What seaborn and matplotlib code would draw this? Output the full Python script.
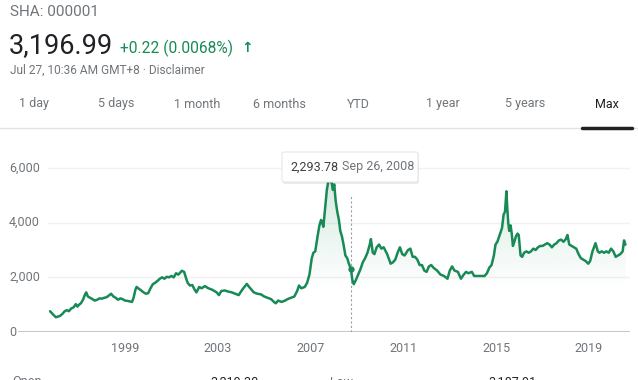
import numpy as np
import pandas as pd
import matplotlib
matplotlib.use("Agg")
import matplotlib.pyplot as plt
import seaborn as sns
from matplotlib.patches import FancyBboxPatch

# ------------------------------------
# DATA (decimal years)
# ------------------------------------

years = [
    1995.77, 1995.9, 1996.02, 1996.1, 1996.2, 1996.3, 1996.4, 1996.5, 1996.58, 1996.68,
    1996.78, 1996.88, 1996.95, 1997.02, 1997.1, 1997.2, 1997.28, 1997.33, 1997.4, 1997.5,
    1997.6, 1997.7, 1997.8, 1997.9, 1998.0, 1998.1, 1998.2, 1998.3, 1998.4, 1998.5,
    1998.6, 1998.7, 1998.8, 1998.9, 1999.0, 1999.1, 1999.2, 1999.3, 1999.37, 1999.45,
    1999.5, 1999.6, 1999.7, 1999.8, 1999.9, 2000.0, 2000.1, 2000.2, 2000.3, 2000.4,
    2000.5, 2000.6, 2000.7, 2000.8, 2000.9, 2001.0, 2001.1, 2001.2, 2001.3, 2001.45,
    2001.55, 2001.62, 2001.7, 2001.8, 2001.9, 2002.0, 2002.08, 2002.2, 2002.3, 2002.45,
    2002.55, 2002.65, 2002.75, 2002.85, 2002.95, 2003.05, 2003.15, 2003.3, 2003.45, 2003.6,
    2003.75, 2003.9, 2004.0, 2004.1, 2004.25, 2004.35, 2004.45, 2004.55, 2004.7, 2004.85,
    2005.0, 2005.15, 2005.3, 2005.42, 2005.5, 2005.6, 2005.75, 2005.9, 2006.0, 2006.15,
    2006.3, 2006.42, 2006.5, 2006.6, 2006.75, 2006.85, 2006.95, 2007.05, 2007.12, 2007.2,
    2007.3, 2007.38, 2007.45, 2007.5, 2007.55, 2007.62, 2007.7, 2007.78, 2007.85, 2007.9,
    2007.96, 2008.02, 2008.08, 2008.15, 2008.22, 2008.28, 2008.35, 2008.42, 2008.5, 2008.58,
    2008.65, 2008.74, 2008.8, 2008.86, 2008.95, 2009.05, 2009.15, 2009.25, 2009.35, 2009.45,
    2009.55, 2009.6, 2009.68, 2009.75, 2009.85, 2009.95, 2010.05, 2010.15, 2010.3, 2010.45,
    2010.55, 2010.65, 2010.75, 2010.85, 2010.95, 2011.05, 2011.2, 2011.3, 2011.4, 2011.5,
    2011.6, 2011.7, 2011.8, 2011.9, 2012.0, 2012.1, 2012.2, 2012.3, 2012.45, 2012.6,
    2012.75, 2012.9, 2013.0, 2013.1, 2013.2, 2013.35, 2013.48, 2013.6, 2013.7, 2013.8,
    2013.95, 2014.05, 2014.2, 2014.35, 2014.5, 2014.6, 2014.7, 2014.8, 2014.9, 2014.97,
    2015.05, 2015.15, 2015.25, 2015.32, 2015.38, 2015.44, 2015.48, 2015.52, 2015.56, 2015.62,
    2015.67, 2015.72, 2015.78, 2015.85, 2015.92, 2015.97, 2016.05, 2016.12, 2016.2, 2016.3,
    2016.4, 2016.5, 2016.6, 2016.7, 2016.8, 2016.9, 2017.0, 2017.1, 2017.2, 2017.3,
    2017.4, 2017.5, 2017.6, 2017.7, 2017.8, 2017.9, 2018.0, 2018.07, 2018.15, 2018.25,
    2018.35, 2018.45, 2018.55, 2018.65, 2018.75, 2018.85, 2018.97, 2019.05, 2019.15, 2019.28,
    2019.38, 2019.45, 2019.55, 2019.65, 2019.75, 2019.85, 2019.95, 2020.05, 2020.15, 2020.25,
    2020.35, 2020.45, 2020.51, 2020.55, 2020.57,
]
values = [
    760, 640, 540, 560, 590, 660, 760, 800, 760, 860,
    900, 1020, 930, 1000, 1050, 1200, 1380, 1450, 1300, 1250,
    1200, 1150, 1180, 1230, 1220, 1250, 1270, 1330, 1400, 1300,
    1250, 1180, 1230, 1200, 1150, 1140, 1120, 1100, 1250, 1550,
    1650, 1580, 1520, 1450, 1400, 1420, 1600, 1750, 1800, 1870,
    1950, 2000, 1950, 2020, 2000, 2050, 2000, 2150, 2100, 2240,
    2200, 2000, 1800, 1700, 1720, 1550, 1450, 1650, 1600, 1680,
    1620, 1580, 1550, 1500, 1450, 1350, 1500, 1520, 1480, 1450,
    1400, 1350, 1480, 1600, 1760, 1650, 1550, 1450, 1400, 1380,
    1300, 1250, 1200, 1100, 1050, 1150, 1100, 1150, 1200, 1250,
    1300, 1500, 1700, 1600, 1650, 1800, 2100, 2700, 2900, 2950,
    3500, 3900, 4100, 4000, 3850, 4500, 5200, 5600, 5950, 5500,
    5200, 5400, 4800, 4400, 4100, 3700, 3500, 3200, 2800, 2700,
    2500, 2294, 1900, 1750, 1900, 2100, 2300, 2550, 2700, 2900,
    3200, 3400, 2900, 2850, 3100, 3200, 3050, 3100, 2850, 2500,
    2550, 2650, 2900, 3100, 2850, 2800, 3000, 3050, 2750, 2750,
    2650, 2450, 2450, 2250, 2200, 2400, 2450, 2350, 2250, 2100,
    2050, 1950, 2250, 2400, 2250, 2200, 1950, 2100, 2200, 2150,
    2200, 2050, 2050, 2050, 2050, 2150, 2350, 2450, 2800, 3200,
    3300, 3550, 3800, 4300, 4400, 5150, 4500, 4000, 3700, 3900,
    3600, 3150, 3300, 3500, 3600, 3550, 2800, 2750, 2900, 2950,
    2900, 2950, 3050, 3000, 3100, 3150, 3150, 3200, 3250, 3200,
    3100, 3200, 3250, 3350, 3380, 3300, 3400, 3550, 3200, 3150,
    3100, 3050, 2850, 2700, 2650, 2600, 2500, 2600, 2950, 3250,
    2950, 2900, 2950, 2900, 2950, 2900, 3050, 2950, 2750, 2800,
    2850, 2950, 3350, 3250, 3197,
]

tick_years = [1999, 2003, 2007, 2011, 2015, 2019]
y_ticks = [0, 2000, 4000, 6000]
tabs = ["1 day", "5 days", "1 month", "6 months", "YTD", "1 year", "5 years", "Max"]
tab_x = [34, 116, 197, 279, 358, 443, 525, 607]

hover_year = 2008.74
hover_value = 2293.78

df = pd.DataFrame({"year": years, "value": values})

# ------------------------------------
# FIGURE
# ------------------------------------

sns.set_style("white")
plt.rcParams["font.family"] = ["Roboto", "DejaVu Sans", "Noto Sans CJK SC"]

W, H = 638, 380
fig = plt.figure(figsize=(W / 100, H / 100), dpi=100)


def fx(x):
    return x / W


def fy(y):
    return 1 - y / H


green = "#178a55"
grey = "#70757a"
dark = "#202124"

# header
fig.text(fx(10), fy(12), "SHA: 000001", fontsize=11, color=grey, va="center")
fig.text(fx(9), fy(46), "3,196.99", fontsize=19.5, color=dark, va="center")
fig.text(fx(120), fy(48), "+0.22 (0.0068%)", fontsize=11.2, color=green, va="center")
fig.text(fx(241), fy(48), "\u2191", fontsize=10, color=green, va="center",
         fontweight="bold", family=["DejaVu Sans"])
fig.text(fx(10), fy(70), "Jul 27, 10:36 AM GMT+8 \u00b7 Disclaimer", fontsize=8.6,
         color=grey, va="center")

# tabs
for label, x in zip(tabs, tab_x):
    fig.text(fx(x), fy(104), label, fontsize=9, va="center", ha="center",
             color=dark if label == "Max" else grey)
fig.add_artist(plt.Line2D([0, 1], [fy(128), fy(128)], color="#e3e3e3", lw=1))
fig.add_artist(plt.Line2D([fx(582), fx(632)], [fy(128), fy(128)], color="#202124", lw=2.5))

# ------------------------------------
# CHART
# ------------------------------------

x0, x1 = 18, 630
ax = fig.add_axes([fx(x0), fy(332), (x1 - x0) / W, (332 - 150) / H])
px_per_year = 23.2
ax.set_xlim(1999 - (125 - x0) / px_per_year, 1999 + (x1 - 125) / px_per_year)
ax.set_ylim(0, 182 / 27.33 * 1000)

sns.lineplot(data=df, x="year", y="value", ax=ax, color=green, linewidth=1.8,
             sort=False, zorder=4)

# gradient fill under the line
poly = ax.fill_between(df["year"], df["value"], 0, color="none", lw=0)
grad_h = 200
alpha = np.clip((np.linspace(6000, 0, grad_h) - 1600) / 4400, 0, 1) * 0.2
rgba = np.zeros((grad_h, 2, 4))
rgba[..., :3] = matplotlib.colors.to_rgb(green)
rgba[..., 3] = alpha[:, None]
img = ax.imshow(rgba, extent=[years[0], years[-1], 0, 6000], aspect="auto",
                origin="upper", zorder=2)
img.set_clip_path(poly.get_paths()[0], transform=ax.transData)

# grid, baseline, ticks
for t in y_ticks[1:]:
    ax.axhline(t, xmin=(48 - x0) / (x1 - x0), xmax=1, color="#f1f1f1", lw=1, zorder=1)
ax.axhline(0, color="#c8c8c8", lw=1.5, zorder=3)
for t in y_ticks:
    ax.text(-(x0 - 9) / (x1 - x0), t, f"{t:,}", transform=ax.get_yaxis_transform(),
            ha="left", va="center", fontsize=9, color=grey, clip_on=False)
ax.set_xticks(tick_years)
ax.set_xticklabels([str(t) for t in tick_years], fontsize=9, color=grey)
ax.tick_params(axis="x", length=4, color="#c8c8c8", pad=3, width=1)
ax.set_yticks([])
ax.set_xlabel("")
ax.set_ylabel("")
sns.despine(ax=ax, left=True, bottom=True)

# hover marker and dashed guide
ax.plot([hover_year, hover_year], [0, 5000], ls=(0, (2, 2)), color="#9aa0a6",
        lw=0.8, zorder=3)
ax.plot([hover_year], [hover_value], "o", color=green, ms=3.5, zorder=5)

# tooltip
fig.add_artist(FancyBboxPatch((fx(283), fy(184)), fx(136), 31 / H,
                              boxstyle="round,pad=0,rounding_size=0.004",
                              fc="#000000", ec="none", alpha=0.08, zorder=9))
fig.add_artist(FancyBboxPatch((fx(282), fy(182)), fx(136), 30 / H,
                              boxstyle="round,pad=0,rounding_size=0.004",
                              fc="white", ec="#e6e6e6", lw=0.8, zorder=10))
fig.text(fx(290), fy(167), "2,293.78", fontsize=9, color="#3c4043", va="center", zorder=11)
fig.text(fx(342), fy(167), "Sep 26, 2008", fontsize=9, color=grey, va="center", zorder=11)

# bottom stats row (cut off by the screenshot, as in the reference)
fig.text(fx(12), fy(382), "Open", fontsize=9, color=grey, va="center")
fig.text(fx(210), fy(382), "3,219.30", fontsize=9, color=dark, va="center")
fig.text(fx(330), fy(382), "Low", fontsize=9, color=grey, va="center")
fig.text(fx(488), fy(382), "3,187.91", fontsize=9, color=dark, va="center")

plt.savefig("out.png", dpi=100)
plt.close()

print("✓ Chart Saved")
